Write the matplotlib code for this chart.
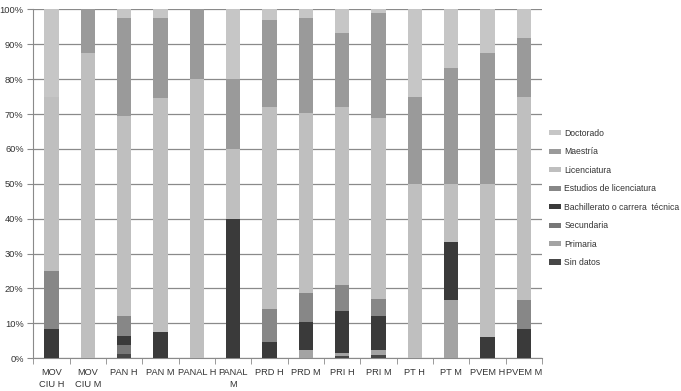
import numpy as np
import matplotlib
matplotlib.use("Agg")
import matplotlib.pyplot as plt
from matplotlib.ticker import FuncFormatter, FixedLocator

plt.rcParams['font.family'] = ['Liberation Sans', 'DejaVu Sans']

categories = ["MOV\nCIU H", "MOV\nCIU M", "PAN H", "PAN M", "PANAL H", "PANAL\nM",
              "PRD H", "PRD M", "PRI H", "PRI M", "PT H", "PT M", "PVEM H", "PVEM M"]

# percent shares per category (bottom to top in the stack)
sin_datos    = [0,    0,    1.2, 0,    0,  0,    0,    0,    0.5, 1.0,  0,    0,    0,    0]
primaria     = [0,    0,    0,   0,    0,  0,    0,    2.4,  1.0, 1.3,  0,    16.7, 0,    0]
secundaria   = [0,    0,    2.5, 0,    0,  0,    0,    0,    0,   0,    0,    0,    0,    0]
bachillerato = [8.3,  0,    2.7, 7.5,  0,  40.0, 4.5,  8.0,  12.0, 9.8, 0,    16.6, 6.2,  8.3]
estudios_lic = [16.7, 0,    5.6, 0,    0,  0,    9.5,  8.3,  7.4, 5.0,  0,    0,    0,    8.4]
licenciatura = [50.0, 87.5, 57.5, 67.0, 80.0, 20.0, 58.0, 51.5, 51.1, 51.9, 50.0, 16.7, 43.8, 58.3]
maestria     = [0,    12.5, 28.0, 23.0, 20.0, 20.0, 25.0, 27.3, 21.2, 29.9, 25.0, 33.3, 37.5, 16.7]
doctorado    = [25.0, 0,    2.5, 2.5,  0,  20.0, 3.0,  2.5,  6.8, 1.1,  25.0, 16.7, 12.5, 8.3]

series = [
    ("Sin datos", sin_datos, "#474747"),
    ("Primaria", primaria, "#a3a3a3"),
    ("Secundaria", secundaria, "#777777"),
    ("Bachillerato o carrera  técnica", bachillerato, "#3a3a3a"),
    ("Estudios de licenciatura", estudios_lic, "#878787"),
    ("Licenciatura", licenciatura, "#bfbfbf"),
    ("Maestría", maestria, "#9a9a9a"),
    ("Doctorado", doctorado, "#c6c6c6"),
]

fig = plt.figure(figsize=(6.81, 3.91), dpi=100)
ax = fig.add_axes([0.049, 0.084, 0.747, 0.892])

x = np.arange(len(categories))
bottom = np.zeros(len(categories))
handles = []
for name, vals, col in series:
    vals = np.array(vals, dtype=float)
    b = ax.bar(x, vals, width=0.39, bottom=bottom, color=col, label=name, zorder=3)
    handles.append(b)
    bottom += vals

ax.set_xlim(-0.5, len(categories) - 0.5)
ax.set_ylim(0, 100)
ax.set_yticks(np.arange(0, 101, 10))
ax.yaxis.set_major_formatter(FuncFormatter(lambda v, p: f"{int(v)}%"))
ax.yaxis.grid(True, color="#8a8a8a", linewidth=0.9, zorder=0)
ax.set_xticks(x)
ax.set_xticklabels(categories, fontsize=6.7, color="#333333", linespacing=1.5)
ax.xaxis.set_minor_locator(FixedLocator(np.arange(-0.5, len(categories), 1)))
ax.tick_params(axis='x', which='major', length=0, pad=7)
ax.tick_params(axis='x', which='minor', length=4, color="#8a8a8a")
ax.tick_params(axis='y', length=4, color="#8a8a8a", labelsize=6.7, labelcolor="#333333", pad=3)
for s in ["top", "right"]:
    ax.spines[s].set_visible(False)
for s in ["left", "bottom"]:
    ax.spines[s].set_color("#8a8a8a")

leg = fig.legend(handles[::-1], [s[0] for s in series[::-1]], loc="upper left",
                 bbox_to_anchor=(0.797, 0.686), frameon=False, fontsize=6.2,
                 handlelength=1.4, handleheight=0.55, labelspacing=1.1,
                 handletextpad=0.4, labelcolor="#333333", borderpad=0.2)

fig.savefig("out.png", dpi=100)
